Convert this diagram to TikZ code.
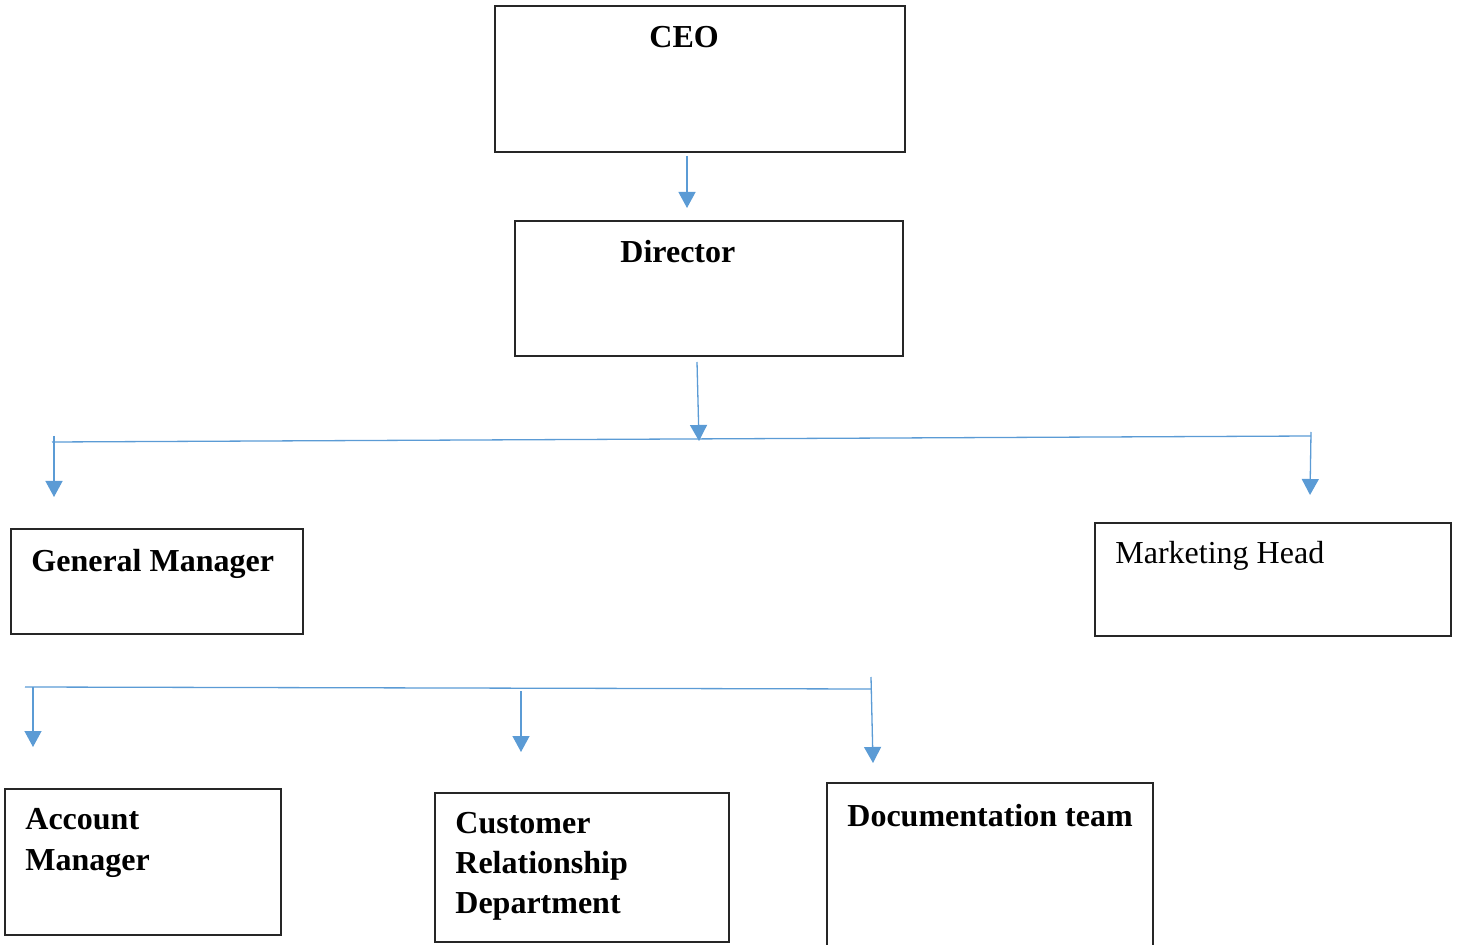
\documentclass[tikz,border=0pt]{standalone}
\usepackage{fontspec}
\setmainfont{Liberation Serif}
\usetikzlibrary{arrows.meta}
\definecolor{conn}{HTML}{5B9BD5}
\definecolor{boxline}{HTML}{262626}
\tikzset{
  orgbox/.style={draw=boxline, line width=0.75pt, fill=none, inner sep=0pt, outer sep=0pt},
  lbl/.style={font=\fontsize{16}{20}\selectfont\bfseries, anchor=base west, inner sep=0pt, align=left},
  lblr/.style={font=\fontsize{16}{20}\selectfont, anchor=base west, inner sep=0pt},
  conn/.style={draw=conn, line width=0.65pt},
  arr/.style={conn, -{Triangle[width=8.5pt,length=8pt]}}
}
\begin{document}
\begin{tikzpicture}[x=0.5pt,y=-0.5pt]
\useasboundingbox (0,0) rectangle (1460,945);
% boxes
\node[orgbox, minimum width=205pt, minimum height=73pt, anchor=north west] (ceo) at (495,6) {};
\node[orgbox, minimum width=194pt, minimum height=67.5pt, anchor=north west] (dir) at (515,221) {};
\node[orgbox, minimum width=146pt, minimum height=52.5pt, anchor=north west] (gm) at (11,529) {};
\node[orgbox, minimum width=178pt, minimum height=56.5pt, anchor=north west] (mh) at (1095,523) {};
\node[orgbox, minimum width=138pt, minimum height=73pt, anchor=north west] (am) at (5,789) {};
\node[orgbox, minimum width=147pt, minimum height=74.5pt, anchor=north west] (crd) at (435,793) {};
\node[orgbox, minimum width=163pt, minimum height=90pt, anchor=north west] (doc) at (827,783) {};
% labels
\node[lbl] (tceo) at (649,48) {CEO};
\node[lbl] (tdir) at (620,263) {Director};
\node[lbl] (tgm) at (31,572) {General Manager};
\node[lblr] (tmh) at (1115,564) {Marketing Head};
\node[lbl] (tam1) at (25,829) {Account};
\node[lbl] (tam2) at (25,870) {Manager};
\node[lbl] (tcrd1) at (455,833) {Customer};
\node[lbl] (tcrd2) at (455,873) {Relationship};
\node[lbl] (tcrd3) at (455,913) {Department};
\node[lbl] (tdoc) at (847,826) {Documentation team};
% connector points
\coordinate (c1s) at (687,156);
\coordinate (c1e) at (687,208);
\coordinate (d1s) at (697,362);
\coordinate (d1e) at (699,441);
\coordinate (hl) at (52,442);
\coordinate (hr) at (1311,436);
\coordinate (ls) at (54,436);
\coordinate (le) at (54,497);
\coordinate (rs) at (1311,432);
\coordinate (re) at (1310,495);
\coordinate (h2l) at (25,687);
\coordinate (h2r) at (871,689);
\coordinate (a1s) at (33,687);
\coordinate (a1e) at (33,747);
\coordinate (a2s) at (521,691);
\coordinate (a2e) at (521,752);
\coordinate (a3s) at (871,677);
\coordinate (a3e) at (873,763);
% connectors
\draw[arr] (c1s) -- (c1e);
\draw[arr] (d1s) -- (d1e);
\draw[conn] (hl) -- (hr);
\draw[arr] (ls) -- (le);
\draw[arr] (rs) -- (re);
\draw[conn] (h2l) -- (h2r);
\draw[arr] (a1s) -- (a1e);
\draw[arr] (a2s) -- (a2e);
\draw[arr] (a3s) -- (a3e);
\end{tikzpicture}
\end{document}
